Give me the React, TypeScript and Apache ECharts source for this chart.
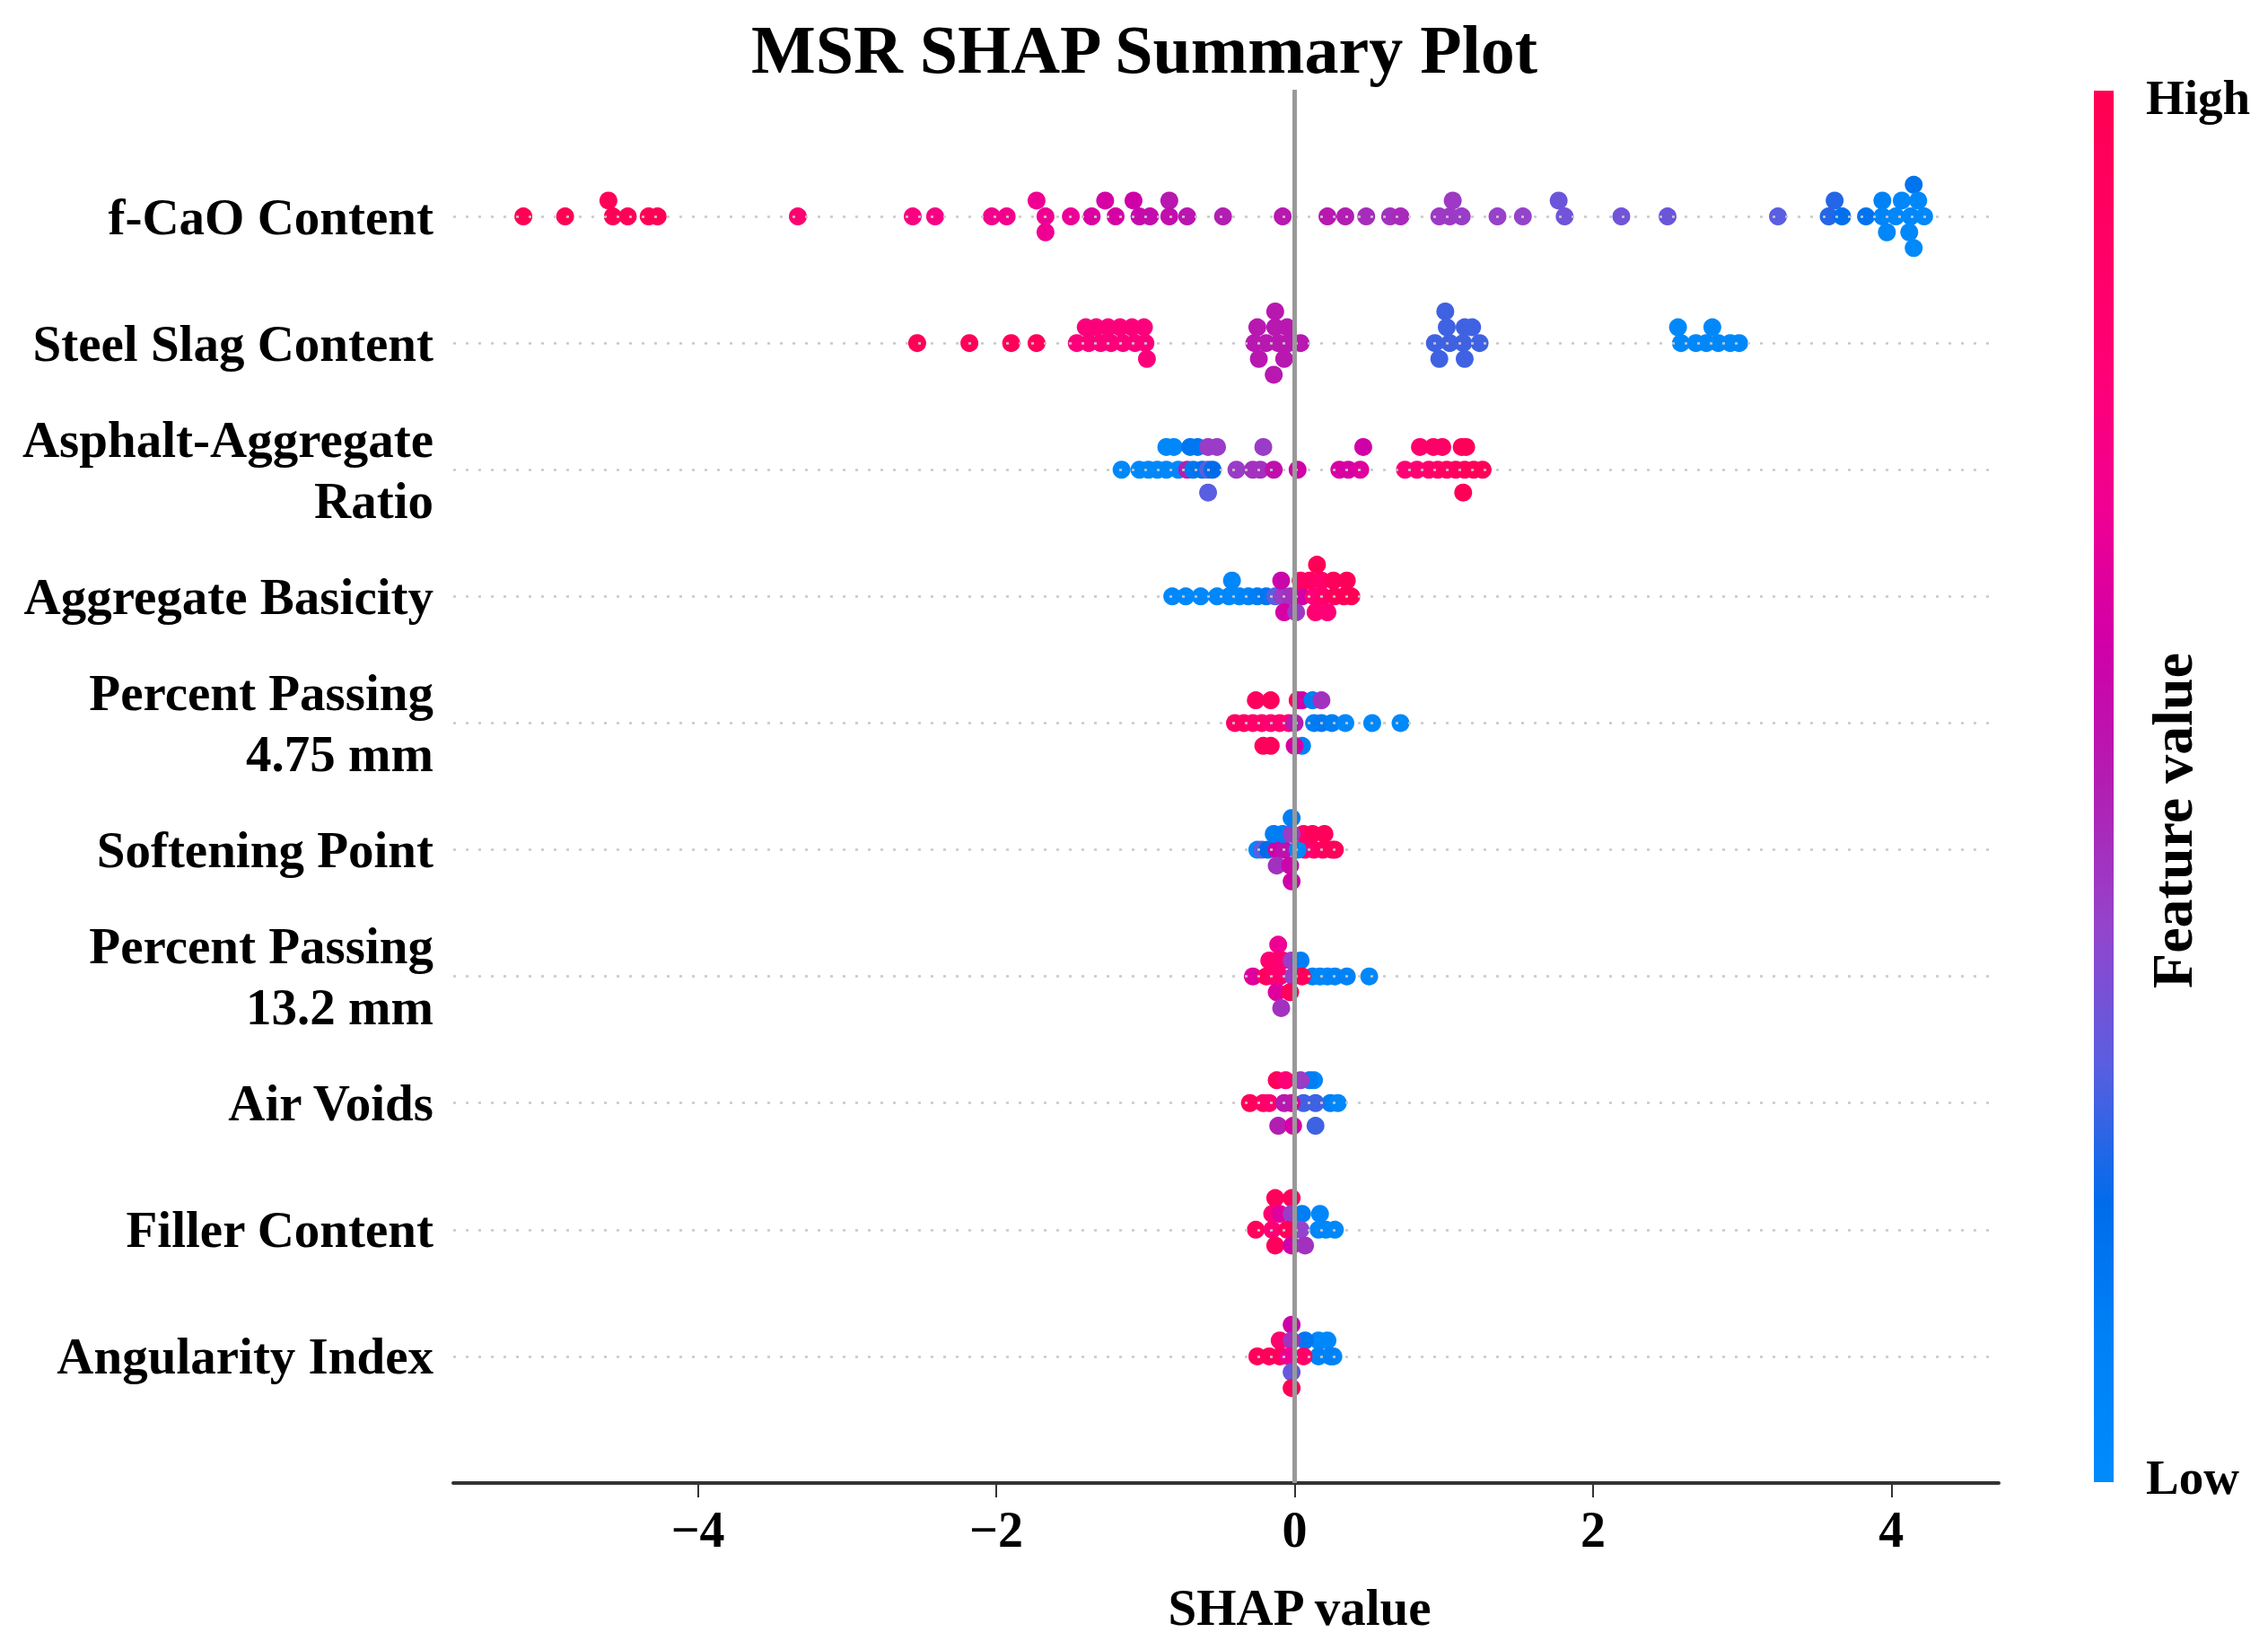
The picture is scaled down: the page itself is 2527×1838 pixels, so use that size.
import React, { useEffect, useRef } from "react";
import * as echarts from "echarts";

// Feature names, top to bottom
const FEATURES = [
  "f-CaO Content",
  "Steel Slag Content",
  "Asphalt-Aggregate\nRatio",
  "Aggregate Basicity",
  "Percent Passing\n4.75 mm",
  "Softening Point",
  "Percent Passing\n13.2 mm",
  "Air Voids",
  "Filler Content",
  "Angularity Index",
];

// [SHAP value, normalized feature value, swarm layer]
const fCaO: number[][] = [
  [-5.17, 0.99, 0], [-4.89, 0.99, 0], [-4.6, 0.97, 1], [-4.57, 0.97, 0], [-4.47, 0.97, 0],
  [-4.33, 0.98, 0], [-4.27, 0.98, 0], [-3.33, 0.83, 0], [-2.56, 0.76, 0], [-2.41, 0.75, 0],
  [-2.03, 0.72, 0], [-1.93, 0.72, 0], [-1.73, 0.7, 1], [-1.67, 0.7, 0], [-1.67, 0.7, -1],
  [-1.5, 0.68, 0], [-1.36, 0.63, 0], [-1.27, 0.62, 1], [-1.2, 0.62, 0], [-1.08, 0.6, 1],
  [-1.04, 0.57, 0], [-0.97, 0.56, 0], [-0.84, 0.52, 1], [-0.84, 0.55, 0], [-0.72, 0.53, 0],
  [-0.48, 0.5, 0], [-0.08, 0.52, 0], [0.22, 0.52, 0], [0.34, 0.5, 0], [0.48, 0.46, 0],
  [0.64, 0.45, 0], [0.71, 0.47, 0], [0.97, 0.43, 0], [1.04, 0.43, 0], [1.06, 0.43, 1],
  [1.12, 0.42, 0], [1.36, 0.41, 0], [1.53, 0.4, 0], [1.77, 0.33, 1], [1.81, 0.34, 0],
  [2.19, 0.34, 0], [2.5, 0.33, 0], [3.24, 0.3, 0], [3.62, 0.24, 1], [3.58, 0.24, 0],
  [3.67, 0.18, 0], [3.83, 0.17, 0], [3.94, 0.1, 1], [3.94, 0.08, 0], [3.97, 0.04, -1],
  [4.07, 0.05, 1], [4.03, 0.04, 0], [4.15, 0.17, 2], [4.18, 0.05, 1], [4.13, 0.04, 0],
  [4.12, 0.03, -1], [4.15, 0.02, -2], [4.22, 0.03, 0],
];

const steelSlag: number[][] = [
  [-2.53, 0.97, 0], [-2.18, 0.96, 0], [-1.9, 0.96, 0], [-1.73, 0.95, 0],
  [-1.46, 0.78, 0], [-1.38, 0.78, 0], [-1.3, 0.78, 0], [-1.23, 0.78, 0], [-1.15, 0.78, 0],
  [-1.07, 0.78, 0], [-1.0, 0.78, 0], [-1.4, 0.78, 1], [-1.33, 0.78, 1], [-1.25, 0.78, 1],
  [-1.17, 0.78, 1], [-1.09, 0.78, 1], [-1.01, 0.78, 1], [-0.99, 0.78, -1],
  [-0.13, 0.52, 2], [-0.25, 0.52, 1], [-0.13, 0.52, 1], [-0.05, 0.52, 1], [-0.27, 0.52, 0],
  [-0.19, 0.52, 0], [-0.11, 0.52, 0], [-0.04, 0.52, 0], [0.04, 0.52, 0], [-0.24, 0.52, -1],
  [-0.07, 0.52, -1], [-0.14, 0.52, -2],
  [1.01, 0.27, 2], [1.02, 0.27, 1], [1.14, 0.27, 1], [1.19, 0.27, 1], [0.94, 0.27, 0],
  [1.04, 0.27, 0], [1.13, 0.27, 0], [1.24, 0.27, 0], [0.97, 0.27, -1], [1.14, 0.27, -1],
  [2.57, 0.03, 1], [2.8, 0.03, 1], [2.59, 0.03, 0], [2.69, 0.03, 0], [2.76, 0.03, 0],
  [2.84, 0.03, 0], [2.92, 0.03, 0], [2.98, 0.03, 0],
];

const asphaltRatio: number[][] = [
  [-0.86, 0.03, 1], [-0.81, 0.03, 1], [-0.7, 0.15, 1], [-0.65, 0.15, 1], [-0.58, 0.42, 1],
  [-0.52, 0.42, 1], [-0.21, 0.42, 1], [0.46, 0.6, 1], [0.84, 0.85, 1], [0.93, 0.88, 1],
  [0.99, 0.9, 1], [1.12, 0.96, 1], [1.15, 0.96, 1],
  [-1.16, 0.03, 0], [-1.04, 0.03, 0], [-0.98, 0.03, 0], [-0.92, 0.03, 0], [-0.86, 0.03, 0],
  [-0.78, 0.05, 0], [-0.72, 0.5, 0], [-0.68, 0.15, 0], [-0.62, 0.17, 0], [-0.58, 0.3, 0],
  [-0.55, 0.2, 0], [-0.39, 0.42, 0], [-0.28, 0.45, 0], [-0.23, 0.45, 0], [-0.14, 0.55, 0],
  [0.02, 0.6, 0], [0.3, 0.62, 0], [0.36, 0.62, 0], [0.44, 0.65, 0], [0.74, 0.8, 0],
  [0.82, 0.82, 0], [0.9, 0.85, 0], [0.96, 0.88, 0], [1.02, 0.92, 0], [1.08, 0.92, 0],
  [1.14, 0.94, 0], [1.2, 0.97, 0], [1.26, 0.97, 0],
  [-0.58, 0.3, -1], [1.13, 0.97, -1],
];

const aggBasicity: number[][] = [
  [-0.82, 0.03, 0], [-0.73, 0.03, 0], [-0.63, 0.04, 0], [-0.52, 0.04, 0], [-0.44, 0.04, 0],
  [-0.37, 0.05, 0], [-0.31, 0.08, 0], [-0.25, 0.12, 0], [-0.19, 0.15, 0], [-0.13, 0.3, 0],
  [-0.08, 0.42, 0], [-0.03, 0.45, 0], [0.05, 0.6, 0], [0.13, 0.8, 0], [0.19, 0.85, 0],
  [0.27, 0.95, 0], [0.33, 0.96, 0], [0.38, 0.97, 0],
  [-0.42, 0.04, 1], [-0.09, 0.58, 1], [0.04, 0.88, 1], [0.1, 0.9, 1], [0.18, 0.85, 1],
  [0.26, 0.95, 1], [0.35, 0.96, 1], [0.15, 0.97, 2],
  [-0.07, 0.62, -1], [0.01, 0.43, -1], [0.14, 0.82, -1], [0.22, 0.8, -1],
];

const passing475: number[][] = [
  [-0.26, 0.93, 1], [-0.16, 0.95, 1], [0.02, 0.93, 1], [0.05, 0.6, 1], [0.12, 0.12, 1], [0.18, 0.45, 1],
  [-0.4, 0.9, 0], [-0.34, 0.92, 0], [-0.28, 0.85, 0], [-0.22, 0.88, 0], [-0.16, 0.82, 0],
  [-0.1, 0.85, 0], [-0.04, 0.8, 0], [0.0, 0.5, 0], [0.13, 0.12, 0], [0.18, 0.14, 0],
  [0.25, 0.12, 0], [0.34, 0.03, 0], [0.52, 0.03, 0], [0.71, 0.02, 0],
  [-0.21, 0.95, -1], [-0.16, 0.95, -1], [0.05, 0.1, -1], [0.0, 0.62, -1],
];

const softeningPoint: number[][] = [
  [-0.25, 0.03, 0], [-0.22, 0.3, 0], [-0.18, 0.2, 0], [-0.12, 0.6, 0], [-0.07, 0.55, 0],
  [0.13, 0.9, 0], [0.19, 0.92, 0], [0.25, 0.95, 0], [0.27, 0.95, 0], [0.07, 0.82, 0], [0.02, 0.05, 0],
  [-0.14, 0.12, 1], [-0.08, 0.12, 1], [0.06, 0.85, 1], [0.12, 0.95, 1], [0.2, 0.95, 1], [-0.02, 0.42, 1],
  [-0.02, 0.12, 2],
  [-0.12, 0.45, -1], [-0.03, 0.58, -1], [-0.02, 0.6, -2],
];

const passing132: number[][] = [
  [-0.11, 0.7, 2],
  [-0.17, 0.82, 1], [-0.12, 0.85, 1], [-0.08, 0.82, 1], [-0.02, 0.42, 1], [0.04, 0.12, 1],
  [-0.28, 0.65, 0], [-0.19, 0.95, 0], [-0.14, 0.85, 0], [-0.1, 0.82, 0], [0.12, 0.1, 0],
  [0.17, 0.05, 0], [0.22, 0.05, 0], [0.27, 0.08, 0], [0.35, 0.1, 0], [0.5, 0.03, 0],
  [-0.01, 0.42, 0], [0.05, 0.95, 0],
  [-0.12, 0.65, -1], [-0.03, 0.95, -1], [-0.09, 0.45, -2],
];

const airVoids: number[][] = [
  [-0.12, 0.95, 1], [-0.06, 0.8, 1], [0.13, 0.03, 1], [0.1, 0.12, 1], [0.04, 0.42, 1],
  [-0.3, 0.95, 0], [-0.21, 0.9, 0], [-0.17, 0.85, 0], [0.24, 0.12, 0], [0.29, 0.04, 0],
  [0.14, 0.27, 0], [0.06, 0.27, 0], [-0.02, 0.65, 0], [-0.07, 0.52, 0],
  [-0.11, 0.5, -1], [-0.01, 0.62, -1], [0.14, 0.27, -1],
];

const fillerContent: number[][] = [
  [-0.13, 0.95, 2], [-0.02, 0.95, 2],
  [-0.15, 0.82, 1], [-0.1, 0.65, 1], [-0.02, 0.42, 1], [0.17, 0.03, 1], [0.05, 0.12, 1],
  [-0.26, 0.95, 0], [0.27, 0.03, 0], [0.21, 0.03, 0], [0.16, 0.05, 0], [0.04, 0.4, 0],
  [-0.15, 0.8, 0], [-0.05, 0.95, 0],
  [-0.13, 0.95, -1], [-0.02, 0.6, -1], [0.07, 0.45, -1],
];

const angularityIndex: number[][] = [
  [-0.02, 0.6, 2],
  [0.22, 0.03, 1], [0.16, 0.03, 1], [0.07, 0.15, 1], [-0.1, 0.85, 1], [-0.02, 0.45, 1],
  [-0.25, 0.95, 0], [-0.17, 0.95, 0], [-0.1, 0.93, 0], [0.26, 0.04, 0], [0.24, 0.1, 0],
  [0.16, 0.1, 0], [-0.04, 0.7, 0], [0.06, 0.88, 0],
  [-0.02, 0.32, -1], [-0.02, 0.97, -2],
];

const ROWS = [fCaO, steelSlag, asphaltRatio, aggBasicity, passing475, softeningPoint, passing132, airVoids, fillerContent, angularityIndex];
const LAYER_STEP = [0.125, 0.125, 0.18, 0.125, 0.18, 0.125, 0.125, 0.18, 0.125, 0.125];

const X_TICKS = [-4, -2, 0, 2, 4];
const X_MIN = -5.64;
const X_MAX = 4.72;

const CMAP = [
  "#008bfb", "#0082f6", "#006ceb", "#5a5ee0", "#9444cc", "#b21eb2",
  "#d000a8", "#f00092", "#ff0076", "#ff0064", "#ff0052",
];

const FONT = "'Liberation Serif', 'Times New Roman', serif";

export default function App() {
  const ref = useRef<HTMLDivElement>(null);
  useEffect(() => {
    if (!ref.current) return;
    const chart = echarts.init(ref.current, undefined, { renderer: "svg" });
    const n = FEATURES.length;
    const data: number[][] = [];
    ROWS.forEach((row, t) => {
      row.forEach((p) => {
        data.push([p[0], n - 1 - t + p[2] * LAYER_STEP[t], p[1]]);
      });
    });
    const gradStops = CMAP.map((c, i) => ({ offset: 1 - i / (CMAP.length - 1), color: c })).reverse();

    const option: any = {
      animation: false,
      backgroundColor: "#ffffff",
      grid: { left: 505, right: 300, top: 100, bottom: 186 },
      xAxis: {
        type: "value",
        min: X_MIN,
        max: X_MAX,
        splitLine: { show: false },
        axisLine: { show: true, onZero: false, lineStyle: { color: "#333333", width: 4 } },
        axisTick: { show: true, customValues: X_TICKS, length: 16, lineStyle: { color: "#333333", width: 2 } },
        axisLabel: {
          customValues: X_TICKS,
          margin: 24,
          fontSize: 56,
          fontWeight: "bold",
          fontFamily: FONT,
          color: "#000000",
          formatter: (v: number) => (v < 0 ? "\u2212" + Math.abs(v) : String(v)),
        },
      },
      yAxis: {
        type: "value",
        min: -1,
        max: n,
        interval: 1,
        splitLine: { show: false },
        axisLine: { show: false },
        axisTick: { show: false },
        axisLabel: {
          margin: 22,
          fontSize: 57,
          lineHeight: 68,
          fontWeight: "bold",
          fontFamily: FONT,
          color: "#000000",
          formatter: (v: number) => {
            const t = n - 1 - v;
            return Number.isInteger(v) && t >= 0 && t < n ? FEATURES[t] : "";
          },
        },
      },
      visualMap: {
        type: "continuous",
        show: false,
        min: 0,
        max: 1,
        dimension: 2,
        seriesIndex: 1,
        inRange: { color: CMAP },
      },
      series: [
        {
          type: "scatter",
          data: [],
          z: 1,
          silent: true,
          markLine: {
            silent: true,
            symbol: "none",
            label: { show: false },
            animation: false,
            data: [
              ...FEATURES.map((_, i) => ({
                yAxis: i,
                lineStyle: { color: "#c8c8c8", type: [3, 11], width: 2.5 },
              })),
              { xAxis: 0, lineStyle: { color: "#999999", type: "solid", width: 5 } },
            ],
          },
        },
        {
          type: "scatter",
          z: 3,
          symbol: "circle",
          symbolSize: 20,
          itemStyle: { opacity: 1 },
          data,
        },
      ],
      graphic: [
        {
          type: "text",
          x: 1275,
          y: 55,
          style: {
            text: "MSR SHAP Summary Plot",
            fontSize: 76,
            fontWeight: "bold",
            fontFamily: FONT,
            fill: "#000000",
            textAlign: "center",
            textVerticalAlign: "middle",
          },
        },
        {
          type: "text",
          x: 1448,
          y: 1790,
          style: {
            text: "SHAP value",
            fontSize: 57,
            fontWeight: "bold",
            fontFamily: FONT,
            fill: "#000000",
            textAlign: "center",
            textVerticalAlign: "middle",
          },
        },
        {
          type: "rect",
          shape: { x: 2333, y: 101, width: 22, height: 1550 },
          style: {
            fill: new echarts.graphic.LinearGradient(0, 0, 0, 1, gradStops),
          },
        },
        {
          type: "text",
          x: 2391,
          y: 108,
          style: { text: "High", fontSize: 55, fontWeight: "bold", fontFamily: FONT, fill: "#000000", textAlign: "left", textVerticalAlign: "middle" },
        },
        {
          type: "text",
          x: 2391,
          y: 1645,
          style: { text: "Low", fontSize: 55, fontWeight: "bold", fontFamily: FONT, fill: "#000000", textAlign: "left", textVerticalAlign: "middle" },
        },
        {
          type: "text",
          x: 2420,
          y: 914,
          rotation: Math.PI / 2,
          style: { text: "Feature value", fontSize: 64, fontWeight: "bold", fontFamily: FONT, fill: "#000000", textAlign: "center", textVerticalAlign: "middle" },
        },
      ],
    };
    chart.setOption(option);
    return () => chart.dispose();
  }, []);
  return <div ref={ref} style={{ position: "fixed", left: 0, top: 0, width: 2527, height: 1838, background: "#fff" }} />;
}
